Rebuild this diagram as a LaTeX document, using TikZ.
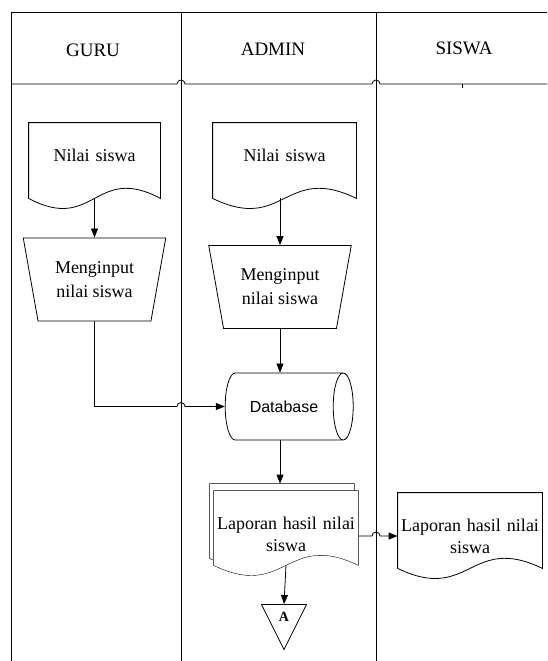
\documentclass[tikz,border=0pt]{standalone}
\usepackage{fontspec}
\setmainfont{Liberation Serif}
\newfontfamily\dbfont{Liberation Sans}
\usetikzlibrary{shapes.geometric,arrows.meta,calc,backgrounds}
\newcommand\docpath[1]{(#1.south west) -- (#1.north west) -- (#1.north east) -- (#1.south east) .. controls ($(#1.south)+(0,-35)$) and ($(#1.south)+(0,35)$) .. cycle}
\begin{document}
\begin{tikzpicture}[x=1pt,y=-1pt,line width=0.8pt,>={Triangle[length=9pt,width=7pt]}]
\tikzset{lane/.style={font=\fontsize{19}{22}\selectfont}}
\tikzset{docu/.style={minimum height=75pt,inner xsep=2pt,inner ysep=0pt,text depth=10pt,align=center,font=\fontsize{18}{22}\selectfont}}
\tikzset{inp/.style={trapezium,draw,shape border rotate=180,trapezium left angle=74,trapezium right angle=74,trapezium stretches=true,minimum width=143pt,minimum height=83pt,inner sep=0pt,align=center,font=\fontsize{18}{24}\selectfont}}
\tikzset{store/.style={cylinder,draw,aspect=1.7,minimum width=67pt,minimum height=128pt,inner sep=0pt,font=\dbfont\fontsize{16}{16}\selectfont}}
\tikzset{offpage/.style={isosceles triangle,draw,shape border rotate=270,isosceles triangle stretches,minimum width=45pt,minimum height=45pt,inner sep=0pt,font=\bfseries\fontsize{14}{14}\selectfont}}
\useasboundingbox (0,0) rectangle (547,661);
\coordinate (l0) at (11,12);
\coordinate (l1) at (181,12);
\coordinate (l2) at (376,12);
\draw (547,12) -- (l0) -- (11,661);
\draw (l1) -- (181,661);
\draw (l2) -- (376,661);
\draw (11,84) -- (177,84) arc[start angle=180,end angle=360,radius=4] -- (372,84) arc[start angle=180,end angle=360,radius=4] -- (547,84);
\draw[line width=0.6pt] (462,84) -- (462,88);
\node[lane] (guru) at (93,50) {GURU};
\node[lane] (admin) at (273,49) {ADMIN};
\node[lane] (siswa) at (464,48) {SISWA};
\node[docu,text width=127pt] (nilai1) at (94.5,160.5) {Nilai siswa};
\node[docu,text width=139pt] (nilai2) at (284.5,160.5) {Nilai siswa};
\node[inp] (input1) at (94.5,279.5) {Menginput\\nilai siswa};
\node[inp] (input2) at (280,287) {Menginput\\nilai siswa};
\node[store] (db) at (284,406.5) {Database};
\node[docu,text width=140pt,minimum height=74pt] (lapback) at (282,521) {};
\node[docu,text width=140pt,minimum height=74pt] (lapor) at (286,528) {Laporan hasil nilai\\siswa};
\node[docu,text width=140pt] (lapsiswa) at (470,530.5) {Laporan hasil nilai\\siswa};
\node[offpage] (conA) at (284,617) {A};
\draw \docpath{nilai1};
\draw \docpath{nilai2};
\draw \docpath{lapsiswa};
\begin{scope}[on background layer]
\draw[fill=white] \docpath{lapback};
\draw[fill=white] \docpath{lapor};
\end{scope}
\coordinate (lapout) at ([yshift=-8pt]lapor.east);
\draw[->] (nilai1.south) -- (input1.north);
\draw[->] (input2.north |- nilai2.south) -- (input2.north);
\draw[->] (input2.south) -- (input2.south |- db.north);
\draw[->] (input1.south) -- (input1.south |- db.west) -- ($(l1 |- db.west)+(-4,0)$) arc[start angle=180,end angle=360,radius=4] -- (db.west);
\draw[->] (input2.south |- db.south) -- (input2.south |- lapback.north);
\draw[->] (lapor.south) -- (conA.north);
\draw[->] (lapout) -- ($(l2 |- lapout)+(-4,0)$) arc[start angle=180,end angle=360,radius=4] -- (lapout -| lapsiswa.west);
\end{tikzpicture}
\end{document}
